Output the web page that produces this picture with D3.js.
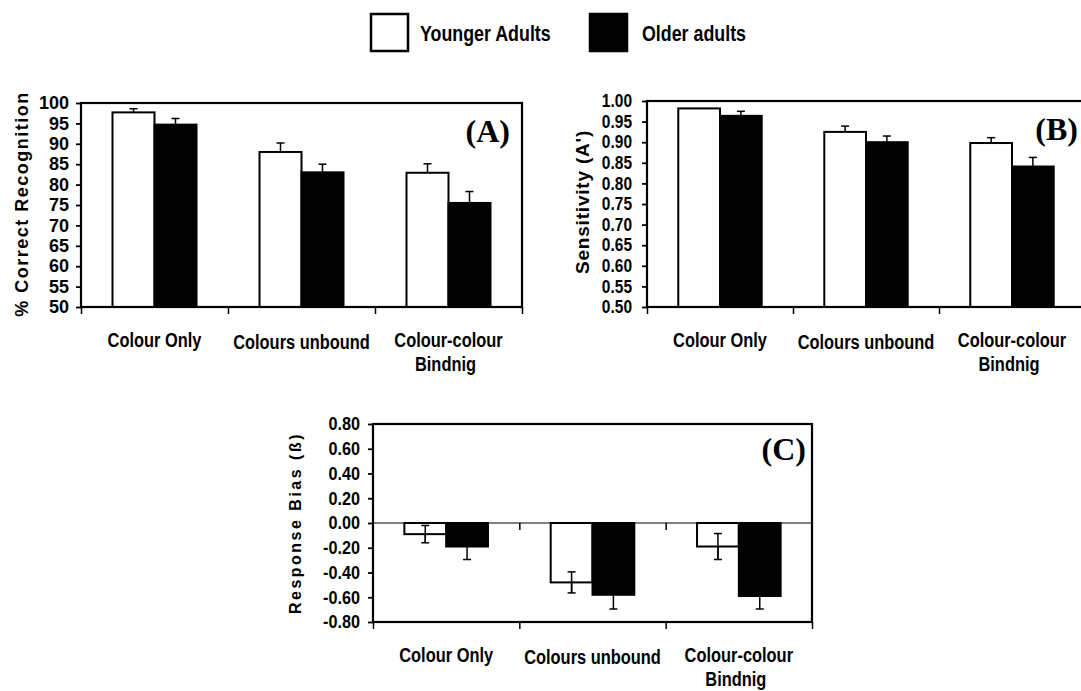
<!DOCTYPE html>
<html>
<head>
<meta charset="utf-8">
<script src="https://cdn.jsdelivr.net/npm/d3@7/dist/d3.min.js"></script>
<style>
  body { margin: 0; background: #fff; }
  svg { display: block; }
</style>
</head>
<body>
<div id="chart"></div>
<script>
// ---- data ----
const categories = ["Colour Only", "Colours unbound", "Colour-colour Bindnig"];
const categoryLines = [["Colour Only"], ["Colours unbound"], ["Colour-colour", "Bindnig"]];
const groups = ["Younger Adults", "Older adults"];

const recogYoung = [97.7, 88.0, 82.9];
const recogYoungErr = [0.9, 2.2, 2.2];
const recogOld = [94.7, 83.0, 75.5];
const recogOldErr = [1.5, 2.0, 2.8];

const sensYoung = [0.982, 0.925, 0.898];
const sensYoungErr = [0.0, 0.014, 0.013];
const sensOld = [0.964, 0.900, 0.841];
const sensOldErr = [0.011, 0.015, 0.022];

const biasYoung = [-0.09, -0.48, -0.19];
const biasYoungErr = [0.07, 0.085, 0.105];
const biasOld = [-0.19, -0.58, -0.59];
const biasOldErr = [0.105, 0.115, 0.105];

const recogTicks = d3.range(50, 101, 5);
const sensTicks = d3.range(0.50, 1.001, 0.05);
const biasTicks = d3.range(-0.80, 0.801, 0.20);

const width = 1081, height = 691;
const sans = '"Liberation Sans", Arial, sans-serif';
const serif = '"Liberation Serif", "Times New Roman", serif';

const svg = d3.select("#chart").append("svg")
  .attr("width", width)
  .attr("height", height);

function fmtFixed(d) {
  // hyphen minus like the original, not unicode minus
  return d3.format(".2f")(d).replace("\u2212", "-");
}

// no narrow font installed, so squeeze the glyphs horizontally
function condense(sel, k) {
  sel.each(function () {
    const len = this.getComputedTextLength();
    d3.select(this).attr("textLength", len * k).attr("lengthAdjust", "spacingAndGlyphs");
  });
}

function drawPanel(opt) {
  const g = svg.append("g").attr("transform", `translate(${opt.left},${opt.top})`);
  const w = opt.width, h = opt.height;

  const x0 = d3.scaleBand().domain(categories).range([0, w]).paddingInner(0).paddingOuter(0);
  const x1 = d3.scaleBand().domain(groups).range([0, x0.bandwidth()]).paddingInner(0).paddingOuter(0.75);
  const y = d3.scaleLinear().domain(opt.domain).range([h, 0]);
  const base = opt.base;

  const rows = [];
  categories.forEach((c, i) => {
    rows.push({ cat: c, grp: groups[0], v: opt.young[i], e: opt.youngErr[i] });
    rows.push({ cat: c, grp: groups[1], v: opt.old[i], e: opt.oldErr[i] });
  });
  const cx = d => x0(d.cat) + x1(d.grp) + x1.bandwidth() / 2;

  // zero line for the bias panel
  if (opt.zeroLine) {
    g.append("line")
      .attr("x1", 0).attr("x2", w)
      .attr("y1", y(0)).attr("y2", y(0))
      .attr("stroke", "#000").attr("stroke-width", 1.2);
    g.append("g")
      .attr("transform", `translate(0,${y(0)})`)
      .call(d3.axisBottom(d3.scaleLinear().domain([0, 3]).range([0, w])).tickValues([1, 2]).tickSize(7).tickFormat(""))
      .call(a => a.select(".domain").remove())
      .selectAll("line").attr("stroke-width", 1.5);
  }

  // error bars under the bars
  const withErr = rows.filter(d => d.e > 0);
  g.selectAll(".err").data(withErr).enter().append("line")
    .attr("class", "err")
    .attr("x1", cx).attr("x2", cx)
    .attr("y1", d => opt.twoSided ? y(d.v - d.e) : y(d.v))
    .attr("y2", d => y(d.v + d.e))
    .attr("stroke", "#000").attr("stroke-width", 1.5);

  g.selectAll(".bar").data(rows).enter().append("rect")
    .attr("class", "bar")
    .attr("x", d => x0(d.cat) + x1(d.grp))
    .attr("y", d => Math.min(y(d.v), y(base)))
    .attr("width", x1.bandwidth())
    .attr("height", d => Math.abs(y(d.v) - y(base)))
    .attr("fill", d => d.grp === groups[0] ? "#fff" : "#000")
    .attr("stroke", "#000")
    .attr("stroke-width", 2);

  // stems over white bars stay visible in the two-sided panel
  if (opt.twoSided) {
    g.selectAll(".err2").data(withErr.filter(d => d.grp === groups[0])).enter().append("line")
      .attr("class", "err2")
      .attr("x1", cx).attr("x2", cx)
      .attr("y1", d => y(d.v - d.e)).attr("y2", d => y(d.v + d.e))
      .attr("stroke", "#000").attr("stroke-width", 1.5);
  }

  // caps
  g.selectAll(".capTop").data(withErr).enter().append("line")
    .attr("class", "capTop")
    .attr("x1", d => cx(d) - 4).attr("x2", d => cx(d) + 4)
    .attr("y1", d => y(d.v + d.e)).attr("y2", d => y(d.v + d.e))
    .attr("stroke", "#000").attr("stroke-width", 1.5);
  if (opt.twoSided) {
    g.selectAll(".capBot").data(withErr).enter().append("line")
      .attr("class", "capBot")
      .attr("x1", d => cx(d) - 4).attr("x2", d => cx(d) + 4)
      .attr("y1", d => y(d.v - d.e)).attr("y2", d => y(d.v - d.e))
      .attr("stroke", "#000").attr("stroke-width", 1.5);
  }

  // frame
  g.append("rect")
    .attr("x", 0).attr("y", 0).attr("width", w).attr("height", h)
    .attr("fill", "none").attr("stroke", "#000").attr("stroke-width", 2.2);

  // y axis
  const ya = g.append("g")
    .call(d3.axisLeft(y).tickValues(opt.ticks).tickSize(5).tickPadding(opt.pad).tickFormat(opt.fmt));
  ya.select(".domain").remove();
  ya.selectAll("line").attr("stroke-width", 1.8);
  ya.selectAll("text")
    .attr("font-family", sans).attr("font-weight", "bold")
    .attr("font-size", 18).attr("fill", "#000")
    .call(condense, opt.tickSqueeze);

  // category ticks at the bottom
  g.append("g")
    .attr("transform", `translate(0,${h})`)
    .call(d3.axisBottom(d3.scaleLinear().domain([0, 3]).range([0, w])).tickValues([0, 1, 2, 3]).tickSize(7).tickFormat(""))
    .call(a => a.select(".domain").remove())
    .selectAll("line").attr("stroke-width", 1.5);

  // category labels
  categories.forEach((c, i) => {
    categoryLines[i].forEach((ln, j) => {
      g.append("text")
        .attr("x", x0(c) + x0.bandwidth() / 2 - (j ? 3 : 0))
        .attr("y", h + opt.labelDy + (i === 1 ? 2 : 0) + j * 24)
        .attr("text-anchor", "middle")
        .attr("font-family", sans).attr("font-weight", "bold")
        .attr("font-size", 20).attr("fill", "#000")
        .text(ln)
        .call(condense, 0.82);
    });
  });

  // y title
  g.append("text")
    .attr("transform", `translate(${opt.titleX},${opt.titleY}) rotate(-90)`)
    .attr("text-anchor", "middle")
    .attr("font-family", sans).attr("font-weight", "bold")
    .attr("font-size", opt.titleSize).attr("letter-spacing", opt.titleSpacing)
    .attr("fill", "#000")
    .text(opt.title);

  // panel letter
  g.append("text")
    .attr("x", w - opt.letterInset).attr("y", opt.letterY)
    .attr("text-anchor", "end")
    .attr("font-family", serif).attr("font-weight", "bold")
    .attr("font-size", 32).attr("fill", "#000")
    .text(opt.letter);
}

drawPanel({
  left: 81, top: 103, width: 441, height: 204,
  domain: [50, 100], base: 50, ticks: recogTicks, fmt: d3.format("d"), pad: 7, tickSqueeze: 1.0,
  young: recogYoung, youngErr: recogYoungErr, old: recogOld, oldErr: recogOldErr,
  title: "% Correct Recognition", titleX: -53, titleY: 101, titleSize: 18, titleSpacing: 1.5,
  letter: "(A)", letterInset: 12, letterY: 39, labelDy: 40
});

drawPanel({
  left: 647, top: 101, width: 438, height: 206,
  domain: [0.5, 1.0], base: 0.5, ticks: sensTicks, fmt: fmtFixed, pad: 10, tickSqueeze: 0.86,
  young: sensYoung, youngErr: sensYoungErr, old: sensOld, oldErr: sensOldErr,
  title: "Sensitivity (A')", titleX: -58, titleY: 101, titleSize: 19, titleSpacing: 0.8,
  letter: "(B)", letterInset: 7, letterY: 39, labelDy: 40
});

drawPanel({
  left: 373, top: 424, width: 439, height: 198,
  domain: [-0.8, 0.8], base: 0, ticks: biasTicks, fmt: fmtFixed, pad: 8, tickSqueeze: 0.9,
  young: biasYoung, youngErr: biasYoungErr, old: biasOld, oldErr: biasOldErr, twoSided: true, zeroLine: true,
  title: "Response Bias (\u00DF)", titleX: -72, titleY: 99, titleSize: 16, titleSpacing: 2.5,
  letter: "(C)", letterInset: 6, letterY: 36, labelDy: 40
});

// legend
const legend = svg.append("g").attr("class", "legend");
const legendX = [371, 590];
groups.forEach((gname, i) => {
  legend.append("rect")
    .attr("x", legendX[i]).attr("y", 14)
    .attr("width", 37).attr("height", 37)
    .attr("fill", i === 0 ? "#fff" : "#000")
    .attr("stroke", "#000").attr("stroke-width", 2.5);
  legend.append("text")
    .attr("x", legendX[i] + (i === 0 ? 49 : 52)).attr("y", 41)
    .attr("font-family", sans).attr("font-weight", "bold")
    .attr("font-size", 22).attr("fill", "#000")
    .text(gname)
    .call(condense, 0.81);
});
</script>
</body>
</html>
